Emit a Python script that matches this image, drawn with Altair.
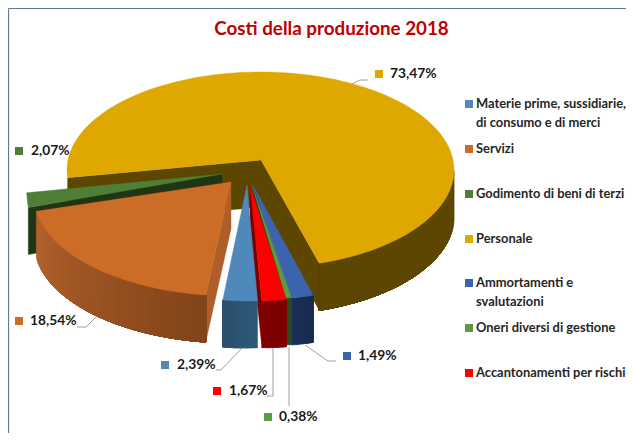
import math
import altair as alt
import pandas as pd

# ---- data ----
categories = ["Materie prime, sussidiarie, di consumo e di merci", "Servizi", "Godimento di beni di terzi",
              "Personale", "Ammortamenti e svalutazioni", "Oneri diversi di gestione", "Accantonamenti per rischi"]
shares = [2.39, 18.54, 2.07, 73.47, 1.49, 0.38, 1.67]
share_labels = ["2,39%", "18,54%", "2,07%", "73,47%", "1,49%", "0,38%", "1,67%"]
legend_lines = [["Materie prime, sussidiarie,", "di consumo e di merci"], ["Servizi"], ["Godimento di beni di terzi"],
                ["Personale"], ["Ammortamenti e", "svalutazioni"], ["Oneri diversi di gestione"], ["Accantonamenti per rischi"]]
title_text = "Costi della produzione 2018"

# ---- styling / layout ----
W, H = 618, 425
FONT = "Lato"
top_colors = ["#4F88BB", "#CC6C27", "#4F7F36", "#DFA800", "#3B64AD", "#5F9A40", "#FF0000"]
wall_colors = [("#2E5878", "#2C4F6C"), ("#B4632C", "#82441A"), ("#1F3514", "#1F3514"), ("#5E4800", "#5C4600"),
               ("#1B3058", "#182A4E"), ("#2F4A20", "#2F4A20"), ("#800000", "#7A0000")]
cut_colors = ["#2C4F6C", "#AE5E29", "#1F3514", "#5C4600", "#1B3058", "#26401A", "#7A0000"]
# exploded ellipse per slice: centre x, centre y, semi-axes, apex x, apex y
geom = [(249.5, 201, 195, 100, 247, 185), (233, 196, 199, 100, 231, 182), (222, 177, 196, 200, 222, 174),
        (260.5, 170, 193.5, 98, 261, 160), (254, 200, 195, 100, 253, 185), (253.6, 199.5, 195, 100, 252, 185),
        (254, 201, 195, 100, 250, 185)]
DEPTH = 47
START = -2.0


def warp(t):
    r = math.radians(t)
    return t + 10.27 * math.sin(2 * r) - 2.41 * math.sin(4 * r)


def pt(g, t):
    r = math.radians(t)
    return [g[0] - g[2] * math.sin(r), g[1] + g[3] * math.cos(r)]


def down(p):
    return [p[0], p[1] + DEPTH]


def mix(c1, c2, f):
    a = [int(c1[i:i + 2], 16) for i in (1, 3, 5)]
    b = [int(c2[i:i + 2], 16) for i in (1, 3, 5)]
    return "#%02X%02X%02X" % tuple(round(x + (y - x) * f) for x, y in zip(a, b))


def span(t0, t1, step=1.5):
    n = max(2, int(abs(t1 - t0) / step) + 1)
    return [t0 + (t1 - t0) * i / n for i in range(n + 1)]


# cumulative angles from the shares
bounds = []
acc = START
for s in shares:
    bounds.append((acc, acc + s * 3.6))
    acc += s * 3.6
bounds = [(warp(a), warp(b)) for a, b in bounds]


def poly(points, fill):
    ring = [list(p) for p in points] + [list(points[0])]
    return {"type": "Feature", "properties": {"fill": fill},
            "geometry": {"type": "Polygon", "coordinates": [ring]}}


features = []


def add_cut(i, t):
    g = geom[i]
    a = [g[4], g[5]]
    e = pt(g, t)
    features.append(poly([a, e, down(e), down(a)], cut_colors[i]))


def add_wall(i, t0, t1):
    # overlapping bands, each reaching to the far end, so no seam can show
    g = geom[i]
    ts = span(t0, t1, 1.5)
    c0, c1 = wall_colors[i]
    n = len(ts) - 1
    for j in range(n):
        rest = [pt(g, t) for t in ts[j:]]
        features.append(poly(rest + [down(p) for p in reversed(rest)], mix(c0, c1, j / max(1, n - 1))))


def add_top(i):
    g = geom[i]
    t0, t1 = bounds[i]
    features.append(poly([[g[4], g[5]]] + [pt(g, t) for t in span(t0, t1)], top_colors[i]))


# Personale (back)
add_cut(3, bounds[3][0])
add_cut(3, bounds[3][1])
add_wall(3, 270, bounds[3][1])
add_top(3)
# Godimento
add_cut(2, bounds[2][0])
add_top(2)
# Servizi
add_cut(1, bounds[1][0])
add_wall(1, bounds[1][1], bounds[1][0])
add_top(1)
# Ammortamenti, Oneri, Accantonamenti, Materie
add_cut(4, bounds[4][1])
add_wall(4, bounds[4][1], bounds[4][0])
add_top(4)
add_cut(5, bounds[5][1])
add_wall(5, bounds[5][1], bounds[5][0])
add_top(5)
add_cut(6, bounds[6][1])
add_wall(6, bounds[6][1], bounds[6][0])
add_top(6)
add_wall(0, bounds[0][0], bounds[0][1])
add_top(0)

projection = alt.Projection(type="identity", scale=1, translate=[-8, -8])
shapes = alt.Chart(alt.InlineData(values={"type": "FeatureCollection", "features": features},
                                  format=alt.DataFormat(property="features", type="json"))).mark_geoshape(
    strokeWidth=0.4).encode(
    fill=alt.Fill("properties.fill:N", scale=None),
    stroke=alt.Stroke("properties.fill:N", scale=None)).project(**projection.to_dict())

# leader lines, in the order of the slices
leaders = [[(241, 349), (221, 370), (216, 370)], [(96, 317), (86, 327), (77, 327)], None,
           [(352, 84), (360, 80), (368, 80)], [(305, 345), (328, 361), (336, 361)],
           [(289, 347), (289, 406)], [(273, 348), (273, 396), (267, 396)]]
line_features = [{"type": "Feature", "properties": {},
                  "geometry": {"type": "LineString", "coordinates": [list(p) for p in l]}}
                 for l in leaders if l]
lines = alt.Chart(alt.InlineData(values={"type": "FeatureCollection", "features": line_features},
                                 format=alt.DataFormat(property="features", type="json"))).mark_geoshape(
    filled=False, stroke="#A0A0A0", strokeWidth=1).project(**projection.to_dict())

xs = alt.Scale(domain=[8, 8 + W], range=[0, W])
ys = alt.Scale(domain=[8, 8 + H], range=[0, H])
X = lambda f: alt.X(f, type="quantitative", scale=xs, axis=None)
Y = lambda f: alt.Y(f, type="quantitative", scale=ys, axis=None)

# label anchors (square centre x, y, text left x)
anchors = [(165, 365, 177), (19, 321, 30), (19, 151, 31), (379, 74, 390), (347, 356, 358), (268, 417, 279), (217, 391, 229)]
lab = pd.DataFrame({"x": [a[0] for a in anchors], "y": [a[1] for a in anchors], "tx": [a[2] for a in anchors],
                    "label": share_labels, "color": top_colors, "cat": categories})
lab_sq = alt.Chart(lab).mark_square(size=64, opacity=1).encode(x=X("x"), y=Y("y"), fill=alt.Fill("color:N", scale=None))
lab_tx = alt.Chart(lab).mark_text(align="left", baseline="middle", font=FONT, fontWeight="bold", fontSize=13.8,
                                  color="#1A1A1A").encode(x=X("tx"), y=Y("y"), text="label:N")

legend_ys = [(104, 123), (149,), (194,), (239,), (283, 302), (328,), (373,)]
leg_rows = []
for cat, ls, yy, col in zip(categories, legend_lines, legend_ys, top_colors):
    for k, (line, y) in enumerate(zip(ls, yy)):
        leg_rows.append({"cat": cat, "text": line, "y": y, "first": k == 0, "color": col, "sx": 469, "tx": 476})
leg = pd.DataFrame(leg_rows)
leg_sq = alt.Chart(leg[leg["first"]]).mark_square(size=64, opacity=1).encode(
    x=X("sx"), y=Y("y"), fill=alt.Fill("color:N", scale=None))
leg_tx = alt.Chart(leg).mark_text(align="left", baseline="middle", font=FONT, fontWeight="bold", fontSize=12.9,
                                  color="#262626").encode(x=X("tx"), y=Y("y"), text="text:N")

title = alt.Chart(pd.DataFrame({"x": [331.5], "y": [29], "t": [title_text]})).mark_text(
    align="center", baseline="middle", font=FONT, fontWeight="bold", fontSize=18.8, color="#C00000").encode(
    x=X("x"), y=Y("y"), text="t:N")

frame_v = alt.Chart(pd.DataFrame({"x": [8.5], "y": [8.5], "y2": [433]})).mark_rule(
    color="#5F7A99", strokeWidth=1.2).encode(x=X("x"), y=Y("y"), y2="y2:Q")
frame_h = alt.Chart(pd.DataFrame({"x": [8.5], "x2": [626], "y": [8.5]})).mark_rule(
    color="#5F7A99", strokeWidth=1.2).encode(x=X("x"), x2="x2:Q", y=Y("y"))

chart = alt.layer(frame_v, frame_h, shapes, lines, lab_sq, lab_tx, leg_sq, leg_tx, title).properties(
    width=W, height=H, padding=0, background="white", autosize=alt.AutoSizeParams(type="none")
).configure_view(stroke=None)

chart.save("out.html", embed_options={"renderer": "svg", "actions": False})
